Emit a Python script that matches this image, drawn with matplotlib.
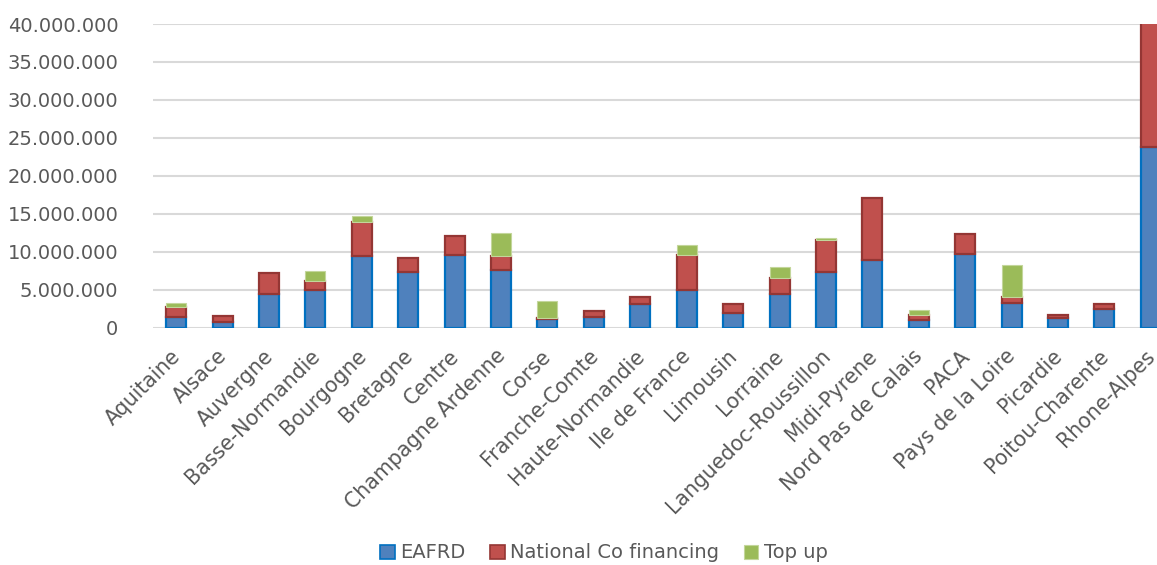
import matplotlib
matplotlib.use("Agg")
import matplotlib.pyplot as plt
from matplotlib.patches import Patch
from matplotlib.ticker import FuncFormatter
from matplotlib.transforms import ScaledTranslation
import numpy as np

regions = ["Aquitaine", "Alsace", "Auvergne", "Basse-Normandie", "Bourgogne",
           "Bretagne", "Centre", "Champagne Ardenne", "Corse", "Franche-Comte",
           "Haute-Normandie", "Ile de France", "Limousin", "Lorraine",
           "Languedoc-Roussillon", "Midi-Pyrene", "Nord Pas de Calais", "PACA",
           "Pays de la Loire", "Picardie", "Poitou-Charente", "Rhone-Alpes"]

eafrd = [1450000, 710000, 4480000, 5000000, 9490000,
         7300000, 9580000, 7640000, 1150000, 1370000,
         3160000, 4930000, 1940000, 4400000,
         7300000, 8960000, 1010000, 9710000,
         3290000, 1240000, 2420000, 23850000]

national = [1320000, 830000, 2770000, 1200000, 4480000,
            1920000, 2540000, 1850000, 170000, 870000,
            920000, 4650000, 1220000, 2110000,
            4300000, 8090000, 660000, 2590000,
            790000, 470000, 660000, 16900000]

top_up = [430000, 0, 0, 1230000, 750000,
          0, 0, 2950000, 2200000, 0,
          0, 1360000, 0, 1450000,
          180000, 0, 700000, 0,
          4220000, 0, 0, 0]

text_color = "#595959"
font = "DejaVu Sans"

fig = plt.figure(figsize=(11.57, 5.65), dpi=100)
ax = fig.add_axes([153 / 1157, 1 - 327.7 / 565, (1174 - 153) / 1157, (327.7 - 24) / 565])

x = np.arange(len(regions))
w = 0.43
eafrd_a = np.array(eafrd, dtype=float)
nat_a = np.array(national, dtype=float)
top_a = np.array(top_up, dtype=float)

ax.bar(x, eafrd_a, w, color="#4F81BD", edgecolor="#0070C0", linewidth=1.6, zorder=3)
ax.bar(x, nat_a, w, bottom=eafrd_a, color="#C0504D", edgecolor="#943634", linewidth=1.6, zorder=3)
has_top = top_a > 0
ax.bar(x[has_top], top_a[has_top], w, bottom=(eafrd_a + nat_a)[has_top],
       color="#9BBB59", edgecolor="#C3D69B", linewidth=0.8, zorder=3)

ax.set_xlim(-0.5, len(regions) - 0.5)
ax.set_ylim(0, 40000000)
ax.set_yticks(np.arange(0, 40000001, 5000000))
ax.yaxis.set_major_formatter(FuncFormatter(lambda v, p: f"{int(v):,}".replace(",", ".")))
ax.yaxis.grid(True, color="#D9D9D9", linewidth=1.5, zorder=0)
ax.set_axisbelow(True)

for s in ax.spines.values():
    s.set_visible(False)
ax.tick_params(axis="both", length=0, colors=text_color, labelsize=14)
ax.tick_params(axis="y", pad=25)
ax.tick_params(axis="x", pad=13)

ax.set_xticks(x)
ax.set_xticklabels(regions, rotation=45, ha="right", rotation_mode="anchor",
                   fontsize=14.8, color=text_color, family=font)
shift = ScaledTranslation(-6 / 100, 0, fig.dpi_scale_trans)
for lbl in ax.get_xticklabels():
    lbl.set_transform(lbl.get_transform() + shift)
for lbl in ax.get_yticklabels():
    lbl.set_family(font)

handles = [Patch(facecolor="#4F81BD", edgecolor="#0070C0", linewidth=1.2, label="EAFRD"),
           Patch(facecolor="#C0504D", edgecolor="#943634", linewidth=1.2, label="National Co financing"),
           Patch(facecolor="#9BBB59", edgecolor="#C3D69B", linewidth=0.8, label="Top up")]
leg = fig.legend(handles=handles, loc="center", bbox_to_anchor=(604 / 1157, 1 - 553 / 565),
                 ncol=3, frameon=False, fontsize=14, handlelength=0.75, handleheight=0.75,
                 handletextpad=0.3, columnspacing=1.25, borderaxespad=0)
for t in leg.get_texts():
    t.set_color(text_color)
    t.set_family(font)

fig.savefig("out.png", dpi=100)
